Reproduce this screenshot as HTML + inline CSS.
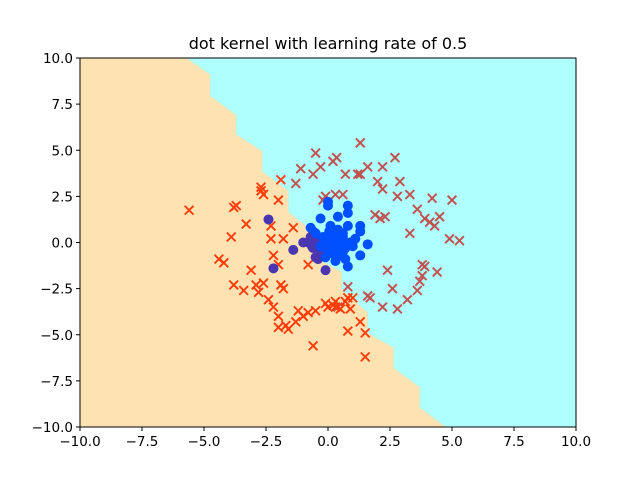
<!DOCTYPE html>
<html><head><meta charset="utf-8"><style>
body{margin:0;background:#fff;}
svg text{font-family:"DejaVu Sans","Liberation Sans",sans-serif;fill:#000;}
</style></head><body>
<svg id="chart" width="640" height="480" xmlns="http://www.w3.org/2000/svg">
<rect width="640" height="480" fill="#fff"/>
<text x="328" y="49" font-size="16" text-anchor="middle">dot kernel with learning rate of 0.5</text>
<g id="plot"></g>
<g id="axes"></g>
</svg>
<script>
const xTicks=[-10,-7.5,-5,-2.5,0,2.5,5,7.5,10];
const yTicks=[-10,-7.5,-5,-2.5,0,2.5,5,7.5,10];
const tickLabels=["\u221210.0","\u22127.5","\u22125.0","\u22122.5","0.0","2.5","5.0","7.5","10.0"];
const boundaryX=[-5.7,-4.75,-4.75,-3.7,-3.7,-2.65,-2.65,-1.6,-1.6,-0.55,-0.55,0.55,0.55,1.6,1.6,2.65,2.65,3.7,3.7,4.75];
const boundaryY=[10,9.1,7.95,6.9,5.85,4.95,3.85,2.8,1.65,0.55,-0.8,-1.6,-2.55,-3.8,-4.9,-5.7,-6.8,-7.85,-8.95,-10];
const brownX=[-0.5,0.2,0.35,1.3,2.7,-1.1,-0.3,1.2,1.6,2.2,-1.3,-0.6,0.7,1.3,2.0,2.9,3.3,0.6,2.2,2.8,3.6,4.2,5.0,0.3,-0.2,-0.1,3.9,4.1,4.3,4.5,3.3,4.9,5.3,1.9,2.3,2.1,3.8,3.9,4.4,2.4,3.8,3.7,0.8,2.6,3.6,1.6,1.7,0.4,2.2,2.8,3.2];
const brownY=[4.85,4.4,4.6,5.4,4.6,4.0,4.1,3.7,4.1,4.1,3.2,3.7,3.7,3.7,3.3,3.3,2.6,2.6,2.9,2.5,1.8,2.4,2.3,2.6,2.3,2.5,1.3,1.1,0.9,1.4,0.5,0.2,0.1,1.5,1.4,1.3,-1.2,-1.3,-1.6,-1.5,-1.8,-2.1,-2.4,-2.5,-2.6,-2.9,-3.0,-3.5,-3.5,-3.6,-3.1];
const redX=[-5.6,-3.7,-3.8,-2.7,-2.7,-2.6,-1.9,-2.0,-3.3,-3.9,-2.3,-2.3,-1.4,-1.8,-0.8,-4.4,-4.2,-2.2,-3.1,-2.0,-3.8,-3.4,-2.9,-2.6,-2.8,-1.9,-1.8,-2.4,-2.2,-2.0,-1.2,-1.0,-1.7,-1.6,-0.8,-0.5,-0.1,0.0,0.2,0.3,0.5,0.7,0.8,0.9,1.0,1.3,0.8,1.5,-0.6,1.5,-1.3,-2.0,0.3];
const redY=[1.75,2.0,1.9,3.0,2.8,2.6,3.4,2.3,1.0,0.3,0.9,0.2,0.8,0.2,-1.2,-0.9,-1.1,-0.7,-1.5,-1.2,-2.3,-2.6,-2.3,-2.2,-2.7,-2.3,-2.5,-3.1,-3.5,-4.0,-3.7,-4.0,-4.5,-4.7,-3.8,-3.7,-3.3,-3.5,-3.4,-3.5,-3.6,-3.2,-3.0,-3.6,-3.0,-4.3,-4.8,-4.9,-5.6,-6.2,-4.3,-4.6,-3.2];
const purpleX=[-2.4,-2.2,-1.4,-1.0,-0.8,-0.6,-0.7,-0.6,-0.5,-0.4,-0.1,-0.3,-0.2,-0.65,-0.45,-0.25];
const purpleY=[1.25,-1.4,-0.4,0.0,0.0,0.6,0.3,-0.3,-0.8,-0.9,-1.5,-0.4,-0.1,-0.2,0.2,-0.6];
const blueX=[0,0,0.8,0.8,-0.3,0.4,-0.7,0.8,1.3,1.3,1.6,1.3,0.8,0.2,0.1,0.3,0.5,-0.2,0.6,-0.1,0.3,0.9,1.0,0.4,-0.3,0.0,0.6,0.2,0.7,-0.5,0.1,1.1,0.0,0.5,0.25,0.45,0.15,0.35,0.55,0.05,0.7,0.4,0.2,-0.1,0.6,0.3,0.5,0.1];
const blueY=[2.2,2.0,2.0,1.6,1.3,1.4,0.8,0.9,0.9,0.6,-0.1,-0.7,-1.3,0.5,0.0,-0.3,0.2,0.3,-0.5,-0.8,-1.0,0.0,-0.2,0.7,-0.2,-0.5,0.3,-0.6,-0.9,0.5,0.9,0.2,0.3,-0.2,0.1,-0.4,-0.2,0.4,0.0,0.6,-0.3,-0.7,0.2,0.1,0.5,-0.1,-0.6,-0.4];

const L=80,R=576,T=58,B=427;
const sx=v=>L+(v+10)/20*(R-L);
const sy=v=>B-(v+10)/20*(B-T);
const NS="http://www.w3.org/2000/svg";
const plot=document.getElementById('plot'),axes=document.getElementById('axes');
function mk(tag,attrs,parent){const e=document.createElementNS(NS,tag);for(const k in attrs)e.setAttribute(k,attrs[k]);parent.appendChild(e);return e;}

let bg=mk('rect',{x:L,y:T,width:R-L,height:B-T,fill:'#afffff'},plot);


let pts=[[sx(-10),sy(10)]];
for(let i=0;i<boundaryX.length;i++)pts.push([sx(boundaryX[i]),sy(boundaryY[i])]);
pts.push([sx(-10),sy(-10)]);
let poly=mk('polygon',{points:pts.map(p=>p.join(',')).join(' '),fill:'#ffe2b2',stroke:'#c8f0d0','stroke-width':0.8},plot);



function cross(x,y,c,name){const g=mk('g',{stroke:c,'stroke-width':1.9},plot);


const px=sx(x),py=sy(y),h=4.4;
mk('line',{x1:px-h,y1:py-h,x2:px+h,y2:py+h},g);mk('line',{x1:px-h,y1:py+h,x2:px+h,y2:py-h},g);}
function dot(x,y,c,name){const e=mk('circle',{cx:sx(x),cy:sy(y),r:5,fill:c},plot);

}
for(let i=0;i<brownX.length;i++)cross(brownX[i],brownY[i],'#c0504d','cross-class-a');
for(let i=0;i<redX.length;i++)cross(redX[i],redY[i],'#ff3c0a','cross-class-b');
for(let i=0;i<purpleX.length;i++)dot(purpleX[i],purpleY[i],'#4a36b0','dot-class-c');
for(let i=0;i<blueX.length;i++)dot(blueX[i],blueY[i],'#0050ff','dot-class-d');

let fr=mk('rect',{x:L,y:T,width:R-L,height:B-T,fill:'none',stroke:'#000','stroke-width':1},axes);


xTicks.forEach((v,i)=>{const x=sx(v);
const t=mk('line',{x1:x,y1:B,x2:x,y2:B+4,stroke:'#000'},axes);


const lb=mk('text',{x:x,y:B+19,'font-size':13.5,'text-anchor':'middle'},axes);lb.textContent=tickLabels[i];

});
yTicks.forEach((v,i)=>{const y=sy(v);
const t=mk('line',{x1:L-4,y1:y,x2:L,y2:y,stroke:'#000'},axes);


const lb=mk('text',{x:L-7,y:y+5,'font-size':13.5,'text-anchor':'end'},axes);lb.textContent=tickLabels[i];

});
</script>
</body></html>
